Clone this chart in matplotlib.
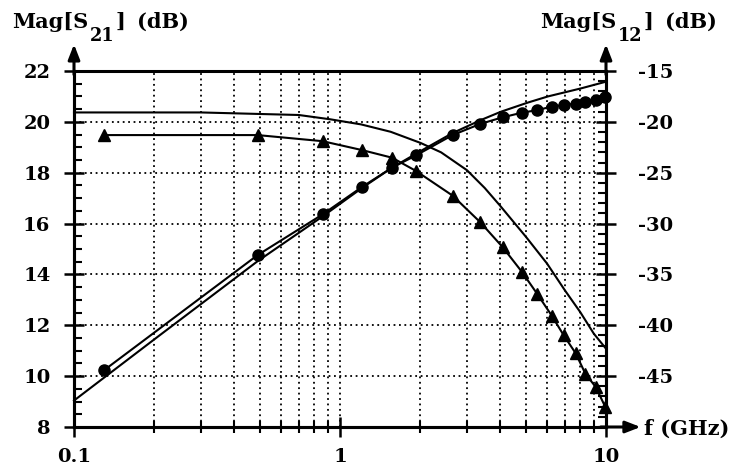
import matplotlib
matplotlib.use("Agg")
import matplotlib.pyplot as plt
from matplotlib.ticker import (FixedLocator, FixedFormatter, MultipleLocator,
                               NullFormatter, FuncFormatter)

# Measured frequency points (GHz)
freq_meas = [0.13, 0.49, 0.86, 1.21, 1.57, 1.93, 2.65, 3.37, 4.09, 4.83,
             5.5, 6.26, 6.93, 7.69, 8.36, 9.15, 9.95]
# Measured |S21| (dB, left axis)
s21_meas = [19.48, 19.48, 19.24, 18.89, 18.59, 18.07, 17.1, 16.05, 15.07, 14.1,
            13.25, 12.37, 11.61, 10.9, 10.1, 9.57, 8.78]
# Measured |S12| (dB, right axis)
s12_meas = [-44.4, -33.1, -29.1, -26.4, -24.5, -23.3, -21.3, -20.2, -19.55, -19.1,
            -18.85, -18.5, -18.35, -18.2, -18.0, -17.85, -17.6]

# Simulated |S21| (dB, left axis)
freq_s21_sim = [0.1, 0.3, 0.7, 0.92, 1.2, 1.55, 2.01, 2.4, 3.0, 3.5, 4.0, 5.0,
                6.0, 7.0, 8.0, 9.0, 10.0]
s21_sim = [20.37, 20.37, 20.27, 20.1, 19.9, 19.61, 19.17, 18.8, 18.1, 17.4, 16.7, 15.48,
           14.43, 13.38, 12.52, 11.67, 11.08]

# Simulated |S12| (dB, right axis)
freq_s12_sim = [0.1, 0.2, 0.49, 0.86, 1.21, 1.57, 2.0, 2.65, 3.4, 4.03,
                5.09, 6.05, 8.08, 10.0]
s12_sim = [-47.4, -41.4, -33.7, -29.3, -26.5, -24.5, -22.9, -21.1, -19.8, -19.0,
           -18.1, -17.5, -16.7, -16.05]

x_ticks = [0.1, 1, 10]
x_tick_labels = ["0.1", "1", "10"]

plt.rcParams["font.family"] = "DejaVu Serif"
plt.rcParams["font.weight"] = "bold"
FS = 14

W, H = 748, 471
fig = plt.figure(figsize=(W / 100, H / 100), dpi=100)
ax = fig.add_axes([74 / W, 44 / H, 532 / W, 356 / H])
ax.set_xscale("log")
ax.set_xlim(0.1, 10)
ax.set_ylim(8, 22)
ax2 = ax.twinx()
ax2.set_ylim(-50, -15)

for a in (ax, ax2):
    for s in a.spines.values():
        s.set_linewidth(2.2)
        s.set_color("k")
ax.spines["top"].set_linewidth(1.8)

# grid
dot = (0, (1, 2))
ax.xaxis.set_major_locator(FixedLocator(x_ticks))
ax.xaxis.set_major_formatter(FixedFormatter(x_tick_labels))
minor_x = [k * d for d in (0.1, 1) for k in range(2, 10)]
ax.xaxis.set_minor_locator(FixedLocator(minor_x))
ax.xaxis.set_minor_formatter(NullFormatter())
for xv in minor_x + [1]:
    ax.axvline(xv, color="k", lw=1.3, ls=dot, zorder=1)
for yv in range(10, 21, 2):
    ax.axhline(yv, color="k", lw=1.3, ls=dot, zorder=1)

ax.yaxis.set_major_locator(MultipleLocator(2))
ax.yaxis.set_minor_locator(MultipleLocator(0.5))
ax2.yaxis.set_major_locator(FixedLocator(range(-45, -14, 5)))
ax2.yaxis.set_major_formatter(FuncFormatter(lambda v, p: "%d" % round(v)))
ax2.yaxis.set_minor_locator(MultipleLocator(1))

ax.tick_params(axis="y", which="major", direction="inout", length=14, width=1.8,
               labelsize=FS, pad=10)
ax.tick_params(axis="y", which="minor", direction="in", length=6, width=1.5)
ax.tick_params(axis="x", which="major", direction="inout", length=14, width=1.8,
               labelsize=FS, pad=8)
ax.tick_params(axis="x", which="minor", direction="inout", length=8, width=1.5)
ax.tick_params(top=False, which="both")
ax2.tick_params(axis="y", which="major", direction="inout", length=14, width=1.8,
                labelsize=FS, pad=16)
ax2.tick_params(axis="y", which="minor", direction="in", length=6, width=1.5)

# curves
ax.plot(freq_s21_sim, s21_sim, color="k", lw=1.5, zorder=3, clip_on=False)
ax.plot(freq_meas, s21_meas, color="k", lw=1.5, marker="^", ms=8,
        zorder=4, clip_on=False)
ax2.plot(freq_s12_sim, s12_sim, color="k", lw=1.5, zorder=3, clip_on=False)
ax2.plot(freq_meas, s12_meas, color="k", lw=1.5, marker="o", ms=8,
         zorder=4, clip_on=False)

# axis arrows
arrow = dict(arrowstyle="-|>,head_length=0.9,head_width=0.35", lw=2.2, color="k",
             shrinkA=0, shrinkB=0)
ax.annotate("", xy=(0, 1.075), xytext=(0, 0.99), xycoords="axes fraction",
            arrowprops=arrow)
ax.annotate("", xy=(1, 1.075), xytext=(1, 0.99), xycoords="axes fraction",
            arrowprops=arrow)
ax.annotate("", xy=(1.065, 0), xytext=(0.99, 0), xycoords="axes fraction",
            arrowprops=arrow)

# axis titles with a dropped subscript, laid out piece by piece
renderer = fig.canvas.get_renderer()


def title_with_sub(x0, base, sub, y_top, size):
    y = H - y_top
    x = x0
    pieces = [(base, size, 0, 0), (sub, size * 0.85, -13, 2), ("]", size, 0, 1),
              ("(dB)", size, 0, 11)]
    for text, fs, dy, gap in pieces:
        x += gap
        t = fig.text(x / W, (y + dy) / H, text, fontsize=fs, ha="left",
                     va="baseline")
        x = t.get_window_extent(renderer).x1


title_with_sub(12, "Mag[S", "21", 28, FS + 1)
title_with_sub(540, "Mag[S", "12", 28, FS + 1)
fig.text(644 / W, 1 - 435 / H, "f (GHz)", fontsize=FS + 1, ha="left", va="baseline")

fig.savefig("out.png", dpi=100)
